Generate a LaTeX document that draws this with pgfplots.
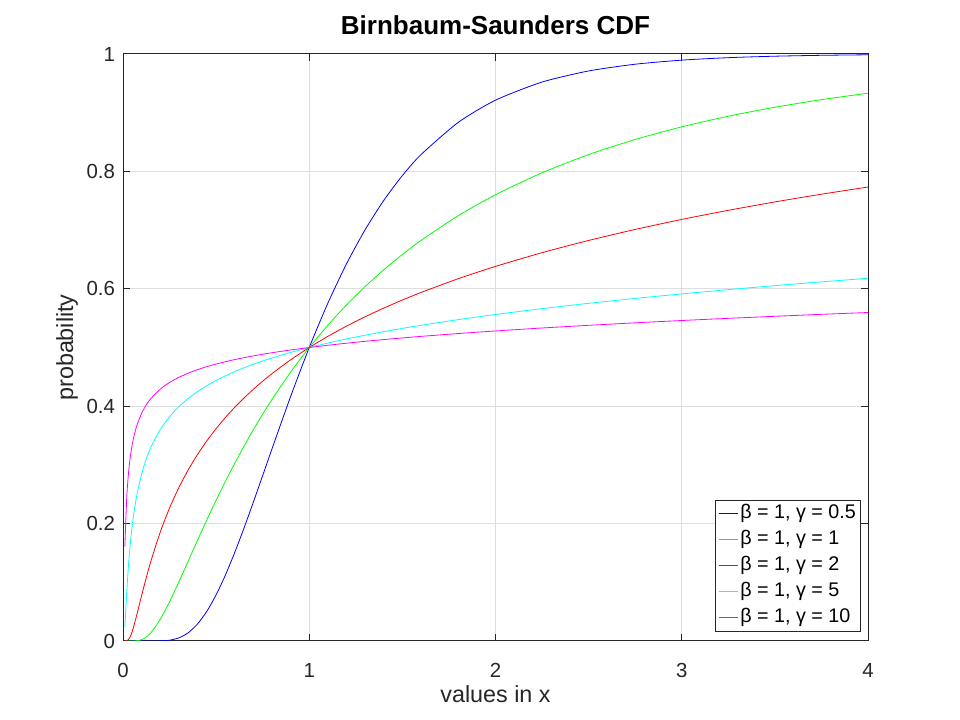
\documentclass[border=0pt]{standalone}
\usepackage{pgfplots}
\usepackage{pgfplotstable}
\pgfplotsset{compat=1.18}
\usepackage{fontspec}
\setmainfont{Liberation Sans}

\definecolor{axgray}{gray}{0.15}
\definecolor{gridgray}{gray}{0.87}
\definecolor{cblue}{rgb}{0,0,1}
\definecolor{cgreen}{rgb}{0,1,0}
\definecolor{cred}{rgb}{1,0,0}
\definecolor{ccyan}{rgb}{0,1,1}
\definecolor{cmagenta}{rgb}{1,0,1}

% Birnbaum-Saunders CDF, beta = 1
\pgfplotstableread{
x      g05      g1       g2       g5       g10
0.01   0        0        0        0.02385  0.16109
0.02   0        0        0.00027  0.08287  0.24417
0.03   0        0        0.00255  0.13134  0.28773
0.04   0        0        0.00820  0.16853  0.31561
0.05   0        0.00001  0.01683  0.19774  0.33543
0.06   0        0.00006  0.02751  0.22139  0.35058
0.075  0        0.00037  0.04563  0.24969  0.36778
0.1    0        0.00222  0.07737  0.28461  0.38798
0.125  0        0.00666  0.10797  0.31031  0.40226
0.15   0.00001  0.01409  0.13625  0.33036  0.41314
0.2    0.00017  0.03682  0.18555  0.36026  0.42902
0.25   0.00135  0.06681  0.22663  0.38209  0.44038
0.3    0.00529  0.10066  0.26141  0.39913  0.44915
0.35   0.01399  0.13595  0.29138  0.41304  0.45626
0.4    0.02889  0.17140  0.31763  0.42475  0.46221
0.45   0.05052  0.20614  0.34092  0.43488  0.46733
0.5    0.07865  0.23975  0.36184  0.44377  0.47181
0.55   0.11246  0.27200  0.38080  0.45170  0.47581
0.6    0.15085  0.30279  0.39812  0.45887  0.47941
0.65   0.19264  0.33210  0.41408  0.46541  0.48269
0.7    0.23664  0.35996  0.42886  0.47142  0.48570
0.75   0.28185  0.38642  0.44262  0.47698  0.48849
0.8    0.32737  0.41153  0.45549  0.48216  0.49108
0.9    0.41651  0.45802  0.47898  0.49159  0.49580
1      0.5      0.5      0.5      0.5      0.5
1.1    0.57562  0.53798  0.51901  0.50761  0.50380
1.2    0.64250  0.57243  0.53637  0.51456  0.50728
1.3    0.70063  0.60377  0.55233  0.52098  0.51050
1.4    0.75052  0.63234  0.56711  0.52695  0.51348
1.5    0.79290  0.65845  0.58087  0.53254  0.51628
1.6    0.82861  0.68237  0.59374  0.53779  0.51892
1.8    0.88348  0.72451  0.61720  0.54746  0.52377
2      0.92135  0.76025  0.63816  0.55623  0.52819
2.25   0.95221  0.79767  0.66154  0.56618  0.53321
2.5    0.97111  0.82861  0.68237  0.57524  0.53779
2.75   0.98259  0.85435  0.70112  0.58358  0.54202
3      0.98954  0.87590  0.71816  0.59132  0.54596
3.25   0.99372  0.89400  0.73369  0.59856  0.54966
3.5    0.99624  0.90927  0.74798  0.60537  0.55315
3.75   0.99775  0.92221  0.76115  0.61180  0.55646
4      0.99865  0.93319  0.77337  0.61791  0.55962
}\bsdata

\begin{document}
\begin{tikzpicture}
\path[use as bounding box] (0,0) rectangle (720pt,540pt);
\begin{axis}[
    at={(92.25pt,59.25pt)}, anchor=south west,
    scale only axis,
    width=558.75pt, height=440.25pt,
    xmin=0, xmax=4, ymin=0, ymax=1,
    xtick={0,1,2,3,4}, ytick={0,0.2,0.4,0.6,0.8,1},
    /pgf/number format/assume math mode=true,
    tick align=inside, tickpos=both,
    major tick length=5.5pt,
    axis line style={axgray, line width=0.75pt},
    every tick/.style={axgray, line width=0.75pt},
    grid=major,
    major grid style={gridgray, line width=0.75pt},
    tick label style={font=\fontsize{15.3}{18}\selectfont, text=axgray},
    xticklabel style={anchor=base, yshift=-27.75pt},
    yticklabel style={xshift=-2.5pt},
    title={\textbf{Birnbaum-Saunders CDF}},
    title style={at={(axis description cs:0.5,1)}, anchor=base, yshift=8.25pt,
        font=\fontsize{19.5}{22}\selectfont},
    xlabel={values in x},
    xlabel style={at={(axis description cs:0.5,0)}, anchor=base, yshift=-46.5pt,
        font=\fontsize{17.5}{20}\selectfont, text=axgray},
    ylabel={probability},
    ylabel style={at={(axis description cs:-0.0671,0.5)}, anchor=base,
        font=\fontsize{17.5}{20}\selectfont, text=axgray},
    legend cell align=left,
    legend image code/.code={\draw[#1] (0pt,0pt) -- (14.25pt,0pt);},
    legend style={at={(axis description cs:0.9906,0.0153)}, anchor=south east,
        draw=axgray, line width=0.75pt, fill=white,
        font=\fontsize{14.8}{17}\selectfont, text=black,
        inner xsep=2pt, inner ysep=1.5pt, row sep=2pt,
        nodes={inner sep=1.5pt, text height=10.5pt, text depth=4pt}},
    every axis plot/.append style={line width=0.6pt, smooth, tension=0.4},
]
\addplot[cblue, no marks] table[x=x, y=g05] {\bsdata};
\addplot[cgreen, no marks] table[x=x, y=g1] {\bsdata};
\addplot[cred, no marks] table[x=x, y=g2] {\bsdata};
\addplot[ccyan, no marks] table[x=x, y=g5] {\bsdata};
\addplot[cmagenta, no marks] table[x=x, y=g10] {\bsdata};
\legend{{β = 1, γ = 0.5},{β = 1, γ = 1},{β = 1, γ = 2},{β = 1, γ = 5},{β = 1, γ = 10}}
\end{axis}
\end{tikzpicture}
\end{document}
